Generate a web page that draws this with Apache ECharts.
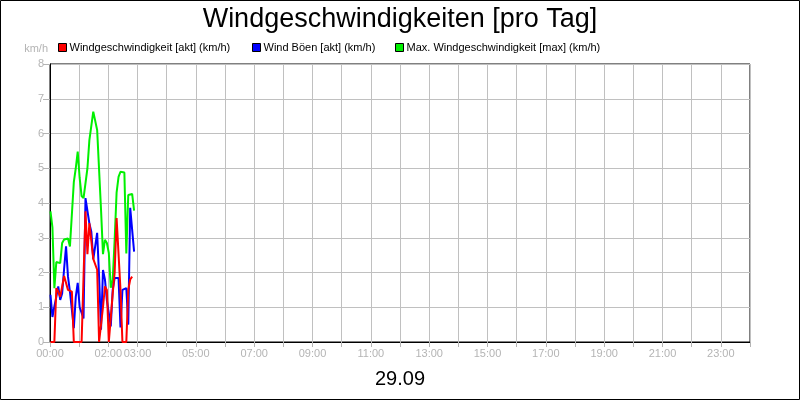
<!DOCTYPE html>
<html>
<head>
<meta charset="utf-8">
<script src="https://cdn.jsdelivr.net/npm/echarts@6/dist/echarts.min.js"></script>
<style>
  html, body { margin: 0; padding: 0; background: #fff; }
  #chart { width: 800px; height: 400px; }
</style>
</head>
<body>
<div id="chart"></div>
<script>
// minutes after midnight, one sample every 4 minutes
var times = [1, 5, 9, 13, 17, 21, 25, 29, 33, 37, 41, 45, 49, 53, 57, 61, 65, 69, 73, 77, 81, 85,
  89, 93, 97, 101, 105, 109, 113, 117, 121, 125, 129, 133, 137, 141, 145, 149, 153, 157, 161, 165, 169, 173];

var windAkt = [0, 0, 0, 1.55, 1.45, 1.3, 1.25, 1.9, 1.9, 1.5, 1.5, 1.45, 0, 0, 0, 0, 0, 0, 3.76, 2.53, 3.42, 3.42,
  2.39, 2.39, 2.08, 0, 0, 1.0, 1.6, 1.5, 0, 0, 1.4, 2.0, 3.57, 3.57, 1.5, 0, 0, 0, 1.5, 1.8, 1.88, null];

var windBoeen = [1.36, 0.72, 1.02, 1.3, 1.6, 1.21, 1.4, 2.1, 2.75, 1.88, 1.45, 1.5, 0.4, 1.3, 1.7, 1.0, 1.0, 0.68, 4.14, 4.14, 3.41, 3.17,
  2.38, 2.38, 3.14, 1.88, 0.35, 2.07, 1.8, 1.2, 0.83, 0.45, 1.5, 1.84, 1.84, 1.84, 0.42, 1.5, 1.55, 1.55, 0.5, 3.86, 3.86, 2.6];

var windMax = [3.76, 3.3, 1.55, 2.3, 2.3, 2.27, 2.85, 2.95, 3.0, 2.98, 2.75, 2.75, 4.6, 5.0, 5.48, 4.72, 4.2, 4.14, 4.14, 5.0, 5.81, 5.84,
  6.63, 6.63, 6.1, 6.08, 3.8, 2.53, 2.94, 2.85, 2.56, 1.56, 1.79, 2.94, 4.3, 4.75, 4.9, 4.9, 4.88, 2.55, 4.23, 4.28, 4.26, 3.78];

var labelHours = [0, 2, 3, 5, 7, 9, 11, 13, 15, 17, 19, 21, 23];

var names = ['Windgeschwindigkeit [akt] (km/h)', 'Wind Böen [akt] (km/h)', 'Max. Windgeschwindigkeit [max] (km/h)'];
var colors = ['#ff0000', '#0000ff', '#00f000'];

function pairs(vals) {
  return times.map(function (t, i) { return [t, vals[i]]; });
}

function pad(n) { return (n < 10 ? '0' : '') + n; }

var font = '"Liberation Sans", Arial, sans-serif';
var grey = '#b4b4b4';

var chart = echarts.init(document.getElementById('chart'));

var legendLeft = [53, 247, 390];
var legends = names.map(function (n, i) {
  return {
    data: [n],
    left: legendLeft[i],
    top: 37,
    icon: 'rect',
    itemWidth: 8,
    itemHeight: 8,
    itemGap: 4,
    selectedMode: false,
    itemStyle: { borderColor: '#000', borderWidth: 1 },
    textStyle: { fontFamily: font, fontSize: 11, color: '#000', padding: [0, 0, 0, -2] }
  };
});

chart.setOption({
  animation: false,
  backgroundColor: '#fff',
  textStyle: { fontFamily: font },
  title: {
    text: 'Windgeschwindigkeiten [pro Tag]',
    left: 'center',
    top: 1,
    textStyle: { fontFamily: font, fontSize: 27, fontWeight: 'normal', color: '#000' }
  },
  legend: legends,
  graphic: [
    {
      type: 'rect',
      shape: { x: 0.5, y: 0.5, width: 799, height: 399 },
      style: { fill: 'none', stroke: '#000', lineWidth: 1 },
      silent: true
    },
    {
      type: 'text',
      left: 'center',
      top: 369,
      style: { text: '29.09', font: '20px ' + font, fill: '#000' }
    }
  ],
  grid: {
    left: 50, right: 50, top: 64, bottom: 58,
    show: true, borderColor: '#000', borderWidth: 1
  },
  xAxis: {
    type: 'value',
    min: 0, max: 1440, interval: 60,
    axisLine: { show: true, lineStyle: { color: '#000' } },
    axisTick: { show: true, length: 5, lineStyle: { color: grey } },
    axisLabel: {
      color: grey, fontSize: 11, margin: 6,
      formatter: function (v) {
        var h = Math.round(v / 60);
        return labelHours.indexOf(h) >= 0 ? pad(h) + ':00' : '';
      }
    },
    splitLine: { show: true, lineStyle: { color: '#c0c0c0' } }
  },
  yAxis: {
    type: 'value',
    min: 0, max: 8, interval: 1,
    name: 'km/h',
    nameLocation: 'end',
    nameGap: 10,
    nameTextStyle: { color: grey, fontSize: 11, align: 'right', padding: [0, 2, 0, 0] },
    axisLine: { show: true, lineStyle: { color: '#000' } },
    axisTick: { show: true, length: 7, lineStyle: { color: grey } },
    axisLabel: { color: grey, fontSize: 11, margin: 6 },
    splitLine: { show: true, lineStyle: { color: '#c0c0c0' } }
  },
  series: [
    { name: names[2], type: 'line', data: pairs(windMax), showSymbol: false, color: colors[2], lineStyle: { width: 2 } },
    { name: names[1], type: 'line', data: pairs(windBoeen), showSymbol: false, color: colors[1], lineStyle: { width: 2 } },
    { name: names[0], type: 'line', data: pairs(windAkt), showSymbol: false, color: colors[0], lineStyle: { width: 2 } }
  ]
});
</script>
</body>
</html>
